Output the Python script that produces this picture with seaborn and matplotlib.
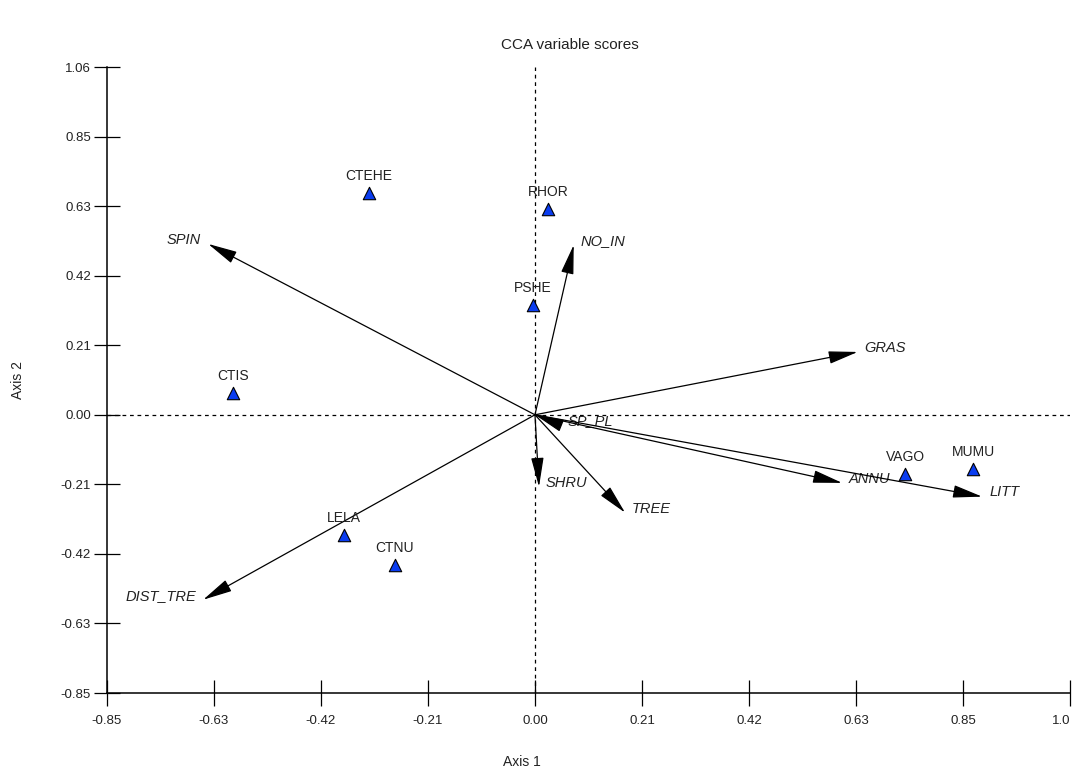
import matplotlib
matplotlib.use("Agg")
import matplotlib.pyplot as plt
import numpy as np
import pandas as pd
import seaborn as sns

# species scores (triangles)
species = ["CTEHE", "RHOR", "PSHE", "CTIS", "VAGO", "MUMU", "LELA", "CTNU"]
species_x = [-0.330, 0.026, -0.004, -0.600, 0.735, 0.870, -0.379, -0.278]
species_y = [0.678, 0.629, 0.336, 0.067, -0.180, -0.165, -0.366, -0.458]

# environmental variable scores (arrows)
variables = ["SPIN", "NO_IN", "GRAS", "SP_PL", "SHRU", "TREE", "ANNU", "LITT", "DIST_TRE"]
var_x = [-0.649, 0.077, 0.641, 0.050, 0.008, 0.179, 0.610, 0.888, -0.659]
var_y = [0.522, 0.519, 0.192, -0.031, -0.220, -0.299, -0.208, -0.250, -0.565]

tick_values = [-0.85, -0.6375, -0.425, -0.2125, 0.0, 0.2125, 0.425, 0.6375, 0.85, 1.0625]
x_tick_labels = ["-0.85", "-0.63", "-0.42", "-0.21", "0.00", "0.21", "0.42", "0.63", "0.85", "1.0"]
y_tick_labels = ["-0.85", "-0.63", "-0.42", "-0.21", "0.00", "0.21", "0.42", "0.63", "0.85", "1.06"]

sns.set_theme(style="white")
plt.rcParams["font.family"] = ["Liberation Sans", "DejaVu Sans"]

fig = plt.figure(figsize=(10.76, 7.72), dpi=100)
ax = fig.add_axes([0.0994, 0.1023, 0.8950, 0.8109])

ax.set_xlim(-0.85, 1.0625)
ax.set_ylim(-0.85, 1.0625)

# dashed zero lines
ax.axhline(0, color="black", lw=0.9, ls=(0, (3, 3)), zorder=1)
ax.axvline(0, color="black", lw=0.9, ls=(0, (3, 3)), zorder=1)

# arrows for variables
for name, vx, vy in zip(variables, var_x, var_y):
    length = np.hypot(vx, vy)
    if length < 0.08:
        # short vector: head drawn back toward origin
        start, end = (vx, vy), (0, 0)
    else:
        start, end = (0, 0), (vx, vy)
    ax.annotate("", xy=end, xytext=start,
                arrowprops=dict(arrowstyle="-|>,head_length=1.3,head_width=0.28",
                                color="black", lw=0.9, shrinkA=0, shrinkB=0,
                                mutation_scale=14),
                zorder=3)
    if vx < 0:
        off, ha = (-5, 3), "right"
    else:
        off, ha = (5, 3), "left"
    ax.annotate(name, xy=(vx, vy), xytext=off, textcoords="offset points",
                ha=ha, va="center", fontsize=10.5, fontstyle="italic", color="#222222")

# species triangles
df = pd.DataFrame({"x": species_x, "y": species_y, "species": species})
sns.scatterplot(data=df, x="x", y="y", marker="^", s=80, color="#0a3cf0",
                edgecolor="black", linewidth=0.8, ax=ax, zorder=4, legend=False)
for name, sx, sy in zip(species, species_x, species_y):
    ax.annotate(name, xy=(sx, sy), xytext=(0, 7), textcoords="offset points",
                ha="center", va="bottom", fontsize=10, color="#222222")

# axes styling
for side in ["top", "right"]:
    ax.spines[side].set_visible(False)
for side in ["left", "bottom"]:
    ax.spines[side].set_color("black")
    ax.spines[side].set_linewidth(1.1)

ax.set_xticks(tick_values)
ax.set_xticklabels(x_tick_labels)
ax.set_yticks(tick_values)
ax.set_yticklabels(y_tick_labels)
ax.tick_params(axis="both", direction="inout", length=19, width=0.9, color="black",
               labelsize=9.5, labelcolor="#222222", bottom=True, left=True)
ax.tick_params(axis="x", pad=6)
ax.tick_params(axis="y", pad=2)
ax.get_xticklabels()[-1].set_horizontalalignment("right")
ax.set_xlabel("")
ax.set_ylabel("")

fig.text(0.53, 0.942, "CCA variable scores", ha="center", va="center",
         fontsize=11, color="#222222")
fig.text(0.485, 0.013, "Axis 1", ha="center", va="center", fontsize=10, color="#222222")
fig.text(0.017, 0.508, "Axis 2", ha="center", va="center", rotation=90,
         fontsize=10, color="#222222")

fig.savefig("out.png", dpi=100)
